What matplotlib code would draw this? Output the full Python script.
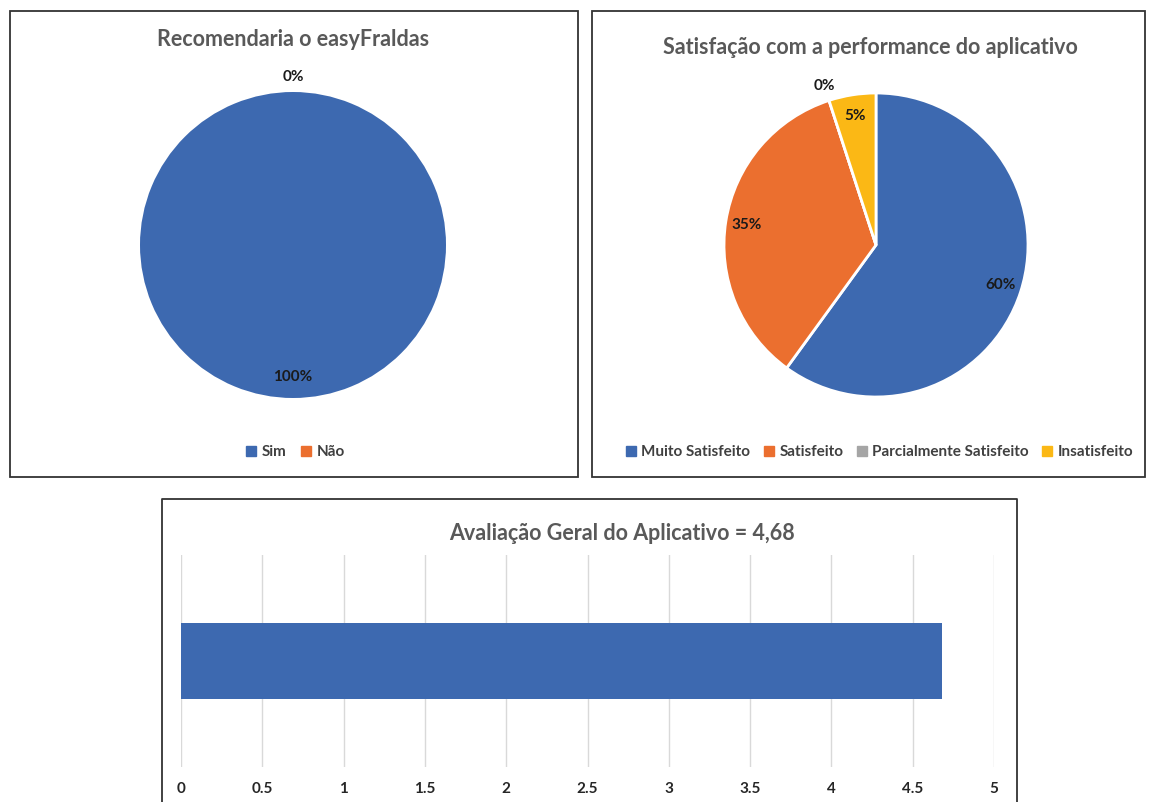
import matplotlib.pyplot as plt
import numpy as np
from matplotlib.patches import Rectangle
from matplotlib.lines import Line2D

plt.rcParams['font.family'] = ['Lato', 'DejaVu Sans']
plt.rcParams['font.weight'] = 'bold'

# dados
rec_labels = ['Sim', 'Não']
rec_values = [100, 0]

sat_labels = ['Muito Satisfeito', 'Satisfeito', 'Parcialmente Satisfeito', 'Insatisfeito']
sat_values = [60, 35, 0, 5]

bar_value = 4.68
bar_ticks = [0, 0.5, 1, 1.5, 2, 2.5, 3, 3.5, 4, 4.5, 5]

blue = '#3D69B0'
orange = '#EB6F2F'
gray = '#A5A5A5'
yellow = '#FBB815'
title_col = '#595959'
text_col = '#404040'

W, H = 1149, 802
fig = plt.figure(figsize=(W / 100, H / 100), dpi=100)


def box(x0, y0, x1, y1):
    # pixel coords (origem no topo) -> coords da figura
    return [x0 / W, 1 - y1 / H, (x1 - x0) / W, (y1 - y0) / H]


# molduras
for x0, y0, x1, y1 in [(10, 11, 578, 477), (592, 11, 1145, 477)]:
    b = box(x0, y0, x1, y1)
    fig.add_artist(Rectangle((b[0], b[1]), b[2], b[3], transform=fig.transFigure,
                             fill=False, ec='#333333', lw=1.3))
bx = box(162, 499, 1017, 802)
fig.add_artist(Line2D([bx[0], bx[0], bx[0] + bx[2], bx[0] + bx[2]],
                      [0, bx[1] + bx[3], bx[1] + bx[3], 0],
                      transform=fig.transFigure, color='#333333', lw=1.3))


def draw_pie(ax, values, colors, edge=True):
    wedges, _ = ax.pie(values, colors=colors, startangle=90, counterclock=False,
                       wedgeprops=dict(edgecolor='white', linewidth=2 if edge else 0))
    total = sum(values)
    for w, v in zip(wedges, values):
        ang = np.deg2rad((w.theta1 + w.theta2) / 2)
        r = 0.86 if v > 0 else 1.1
        ax.text(r * np.cos(ang), r * np.sin(ang), f'{v / total * 100:.0f}%',
                ha='center', va='center', fontsize=11, color='#1a1a1a', fontweight='bold')
    ax.set_xlim(-1, 1)
    ax.set_ylim(-1, 1)
    return wedges


def square_handles(colors):
    return [Line2D([], [], marker='s', ls='none', color=c, markersize=7) for c in colors]


# pizza 1
ax1 = fig.add_axes(box(140, 92, 446, 398))
draw_pie(ax1, rec_values, [blue, orange], edge=False)
fig.text(293 / W, 1 - 39 / H, 'Recomendaria o easyFraldas', ha='center', va='center',
         fontsize=15.5, color=title_col, fontweight='bold')
fig.legend(square_handles([blue, orange]), rec_labels, loc='center',
           bbox_to_anchor=(295 / W, 1 - 452 / H), ncol=2, frameon=False,
           handlelength=0.8, handletextpad=0.3, columnspacing=0.9,
           prop=dict(size=11, weight='bold'), labelcolor=text_col)

# pizza 2
ax2 = fig.add_axes(box(724, 93, 1028, 397))
draw_pie(ax2, sat_values, [blue, orange, gray, yellow])
fig.text(870 / W, 1 - 47 / H, 'Satisfação com a performance do aplicativo', ha='center',
         va='center', fontsize=15.5, color=title_col, fontweight='bold')
fig.legend(square_handles([blue, orange, gray, yellow]), sat_labels, loc='center',
           bbox_to_anchor=(879 / W, 1 - 452 / H), ncol=4, frameon=False,
           handlelength=0.8, handletextpad=0.3, columnspacing=0.8,
           prop=dict(size=11, weight='bold'), labelcolor=text_col)

# barras
ax3 = fig.add_axes(box(181, 555, 994, 767))
ax3.barh([0], [bar_value], height=0.36, color=blue, zorder=3)
ax3.set_xlim(0, 5)
ax3.set_ylim(-0.5, 0.5)
ax3.set_xticks(bar_ticks)
ax3.set_xticklabels([f'{t:g}' for t in bar_ticks])
ax3.set_yticks([])
ax3.grid(axis='x', color='#D9D9D9', lw=1)
ax3.tick_params(axis='x', length=0, pad=11, labelsize=11, labelcolor='#262626')
for s in ax3.spines.values():
    s.set_visible(False)
fig.text(622 / W, 1 - 534 / H, 'Avaliação Geral do Aplicativo = 4,68', ha='center',
         va='center', fontsize=15.5, color=title_col, fontweight='bold')

fig.savefig('out.png', dpi=100)
